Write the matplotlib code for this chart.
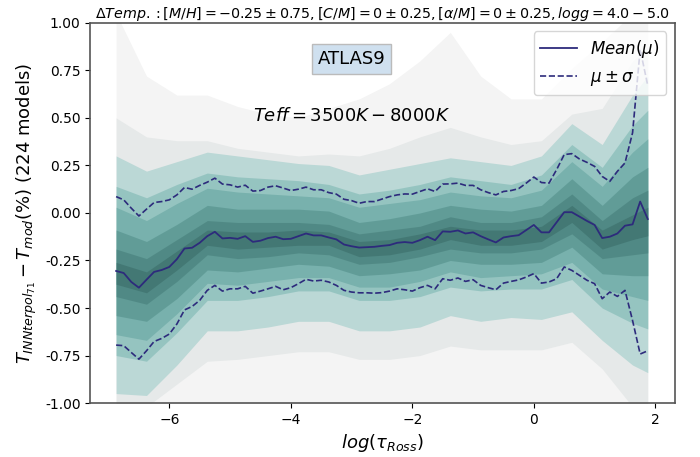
import numpy as np
import matplotlib.pyplot as plt

# ----------------- DATA -----------------
# optical depth grid (71 layers)
log_tau = np.arange(-6.875, 1.876, 0.125)

mean_dt = [-0.305, -0.316, -0.363, -0.393, -0.351, -0.310, -0.300, -0.284, -0.243, -0.187,
           -0.183, -0.157, -0.122, -0.099, -0.134, -0.131, -0.136, -0.122, -0.152, -0.146,
           -0.132, -0.125, -0.138, -0.136, -0.122, -0.108, -0.118, -0.118, -0.129, -0.139,
           -0.166, -0.175, -0.182, -0.180, -0.178, -0.173, -0.169, -0.157, -0.153, -0.157,
           -0.143, -0.125, -0.143, -0.097, -0.099, -0.092, -0.108, -0.102, -0.122, -0.139,
           -0.155, -0.129, -0.122, -0.117, -0.090, -0.063, -0.102, -0.102, -0.049, 0.004,
           0.004, -0.019, -0.042, -0.063, -0.132, -0.125, -0.108, -0.067, -0.060, 0.060,
           -0.032]

upper_dt = [0.086, 0.069, 0.025, -0.016, 0.020, 0.055, 0.060, 0.069, 0.095, 0.134,
            0.125, 0.145, 0.162, 0.183, 0.152, 0.148, 0.136, 0.146, 0.115, 0.118,
            0.136, 0.143, 0.131, 0.118, 0.125, 0.136, 0.122, 0.122, 0.107, 0.099,
            0.072, 0.065, 0.051, 0.060, 0.060, 0.073, 0.086, 0.095, 0.100, 0.099,
            0.113, 0.127, 0.113, 0.152, 0.153, 0.157, 0.145, 0.145, 0.122, 0.107,
            0.095, 0.113, 0.118, 0.128, 0.157, 0.189, 0.160, 0.157, 0.228, 0.307,
            0.312, 0.284, 0.266, 0.245, 0.192, 0.166, 0.219, 0.263, 0.422, 0.860,
            0.670]

lower_dt = [-0.695, -0.698, -0.734, -0.769, -0.725, -0.676, -0.660, -0.637, -0.584, -0.510,
            -0.492, -0.460, -0.407, -0.381, -0.411, -0.399, -0.399, -0.386, -0.422, -0.411,
            -0.399, -0.386, -0.404, -0.393, -0.372, -0.349, -0.358, -0.354, -0.363, -0.381,
            -0.407, -0.416, -0.420, -0.420, -0.422, -0.419, -0.411, -0.399, -0.404, -0.411,
            -0.393, -0.381, -0.399, -0.346, -0.354, -0.342, -0.360, -0.351, -0.381, -0.393,
            -0.404, -0.369, -0.360, -0.352, -0.337, -0.319, -0.369, -0.363, -0.346, -0.284,
            -0.302, -0.328, -0.354, -0.372, -0.451, -0.416, -0.439, -0.407, -0.566, -0.742,
            -0.725]

# envelopes of the 224 models, on a coarser grid (outermost first)
band_tau = [-6.875, -6.375, -5.875, -5.375, -4.875, -4.375, -3.875, -3.375, -2.875, -2.375,
            -1.875, -1.375, -0.875, -0.375, 0.125, 0.625, 1.125, 1.625, 1.875]

grey_hi = [
    [1.05, 0.72, 0.62, 0.62, 0.56, 0.52, 0.50, 0.55, 0.60, 0.68, 0.80, 0.95, 0.72, 0.60, 0.60, 0.76, 0.90, 1.05, 1.05],
    [0.50, 0.40, 0.38, 0.38, 0.34, 0.32, 0.30, 0.31, 0.30, 0.34, 0.40, 0.45, 0.40, 0.36, 0.38, 0.52, 0.55, 0.80, 0.88],
]
grey_lo = [
    [-1.05, -1.05, -1.05, -1.05, -1.05, -1.05, -1.05, -1.05, -1.05, -1.05, -1.05, -1.05, -1.05, -1.05, -1.05, -1.05, -1.05, -1.05, -1.05],
    [-1.02, -1.02, -0.90, -0.78, -0.77, -0.75, -0.73, -0.73, -0.77, -0.77, -0.75, -0.70, -0.72, -0.72, -0.72, -0.68, -0.82, -1.02, -1.02],
]
grey_colors = ["#f4f4f4", "#e6e9e9"]

teal_hi = [
    [0.30, 0.22, 0.27, 0.32, 0.30, 0.28, 0.26, 0.25, 0.20, 0.23, 0.26, 0.29, 0.27, 0.25, 0.30, 0.47, 0.36, 0.62, 0.72],
    [0.14, 0.08, 0.15, 0.21, 0.19, 0.18, 0.17, 0.15, 0.10, 0.12, 0.15, 0.19, 0.17, 0.15, 0.20, 0.36, 0.24, 0.46, 0.54],
    [0.03, -0.04, 0.05, 0.13, 0.11, 0.10, 0.09, 0.08, 0.03, 0.05, 0.07, 0.11, 0.09, 0.08, 0.12, 0.27, 0.14, 0.32, 0.39],
    [-0.09, -0.15, -0.06, 0.04, 0.02, 0.02, 0.02, 0.01, -0.05, -0.03, 0.00, 0.04, 0.02, 0.01, 0.04, 0.18, 0.04, 0.19, 0.24],
    [-0.19, -0.24, -0.14, -0.04, -0.05, -0.05, -0.05, -0.06, -0.11, -0.09, -0.07, -0.02, -0.05, -0.05, -0.02, 0.10, -0.04, 0.08, 0.12],
    [-0.26, -0.31, -0.20, -0.09, -0.10, -0.10, -0.09, -0.10, -0.15, -0.14, -0.11, -0.07, -0.09, -0.09, -0.07, 0.04, -0.09, -0.01, 0.03],
]
teal_lo = [
    [-0.95, -0.96, -0.80, -0.62, -0.62, -0.60, -0.57, -0.57, -0.62, -0.62, -0.60, -0.54, -0.57, -0.55, -0.56, -0.52, -0.67, -0.80, -0.84],
    [-0.75, -0.78, -0.63, -0.46, -0.46, -0.44, -0.41, -0.41, -0.46, -0.46, -0.44, -0.39, -0.41, -0.40, -0.40, -0.35, -0.50, -0.58, -0.61],
    [-0.64, -0.67, -0.53, -0.37, -0.38, -0.36, -0.34, -0.34, -0.39, -0.39, -0.36, -0.31, -0.34, -0.33, -0.32, -0.26, -0.40, -0.44, -0.46],
    [-0.54, -0.57, -0.45, -0.30, -0.31, -0.29, -0.27, -0.28, -0.33, -0.32, -0.30, -0.25, -0.27, -0.27, -0.26, -0.18, -0.32, -0.33, -0.33],
    [-0.44, -0.48, -0.36, -0.22, -0.24, -0.23, -0.21, -0.22, -0.27, -0.26, -0.23, -0.19, -0.21, -0.21, -0.19, -0.11, -0.24, -0.22, -0.21],
    [-0.375, -0.42, -0.30, -0.17, -0.19, -0.18, -0.17, -0.17, -0.23, -0.22, -0.19, -0.14, -0.17, -0.17, -0.15, -0.05, -0.19, -0.14, -0.12],
]
teal_colors = ["#a9d1ce", "#86bcb8", "#6ca9a5", "#58948f", "#4a827e", "#3e716d"]

line_color = "#2d2b7c"

# ----------------- PLOT -----------------
fig = plt.figure(figsize=(7, 4.57), dpi=100)
ax = fig.add_axes([0.129, 0.118, 0.835, 0.832])

for hi, lo, c in zip(grey_hi, grey_lo, grey_colors):
    ax.fill_between(band_tau, lo, hi, color=c, lw=0)

# translucent layers so the edges blend into each other
for hi, lo, c in zip(teal_hi, teal_lo, teal_colors):
    ax.fill_between(band_tau, lo, hi, color=c, alpha=0.7, lw=0)

ax.plot(log_tau, mean_dt, color=line_color, lw=1.3, label=r"$Mean(\mu)$")
ax.plot(log_tau, upper_dt, color=line_color, lw=1.2, ls="--", label=r"$\mu \pm \sigma$")
ax.plot(log_tau, lower_dt, color=line_color, lw=1.2, ls="--")

ax.set_xlim(-7.3, 2.32)
ax.set_ylim(-1, 1)
ax.set_yticks([-1, -0.75, -0.5, -0.25, 0, 0.25, 0.5, 0.75, 1])
ax.yaxis.set_major_formatter(plt.FormatStrFormatter("%.2f"))
ax.set_xticks([-6, -4, -2, 0, 2])
ax.tick_params(labelsize=10)
for s in ax.spines.values():
    s.set_color("#555555")
    s.set_linewidth(1.2)

ax.set_xlabel(r"$log(\tau_{Ross})$", fontsize=13)
ax.set_ylabel(r"$T_{INNterpol_{71}} - T_{mod}(\%)$ (224 models)", fontsize=13)
ax.set_title(r"$\Delta Temp.:[M/H] = -0.25 \pm 0.75, [C/M] = 0 \pm 0.25, [\alpha/M] = 0 \pm 0.25, logg = 4.0 - 5.0$",
             fontsize=10.3, pad=3)

ax.text(-3.0, 0.81, "ATLAS9", fontsize=13, ha="center", va="center",
        bbox=dict(facecolor="#cfe0ef", edgecolor="#bbbbbb", pad=4))
ax.text(-3.0, 0.51, r"$Teff = 3500K - 8000K$", fontsize=13, ha="center", va="center")

ax.legend(loc="upper right", fontsize=12, handlelength=2.2)

plt.savefig("out.png", dpi=100)
